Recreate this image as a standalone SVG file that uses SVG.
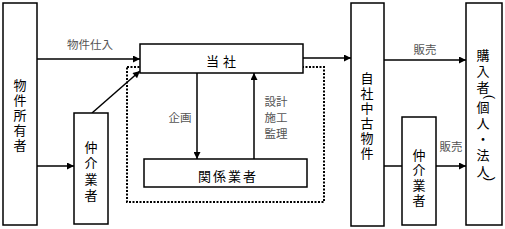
<svg xmlns="http://www.w3.org/2000/svg" width="505" height="229" viewBox="0 0 505 229">
<style>
.box{fill:#fff;stroke:#000;stroke-width:1.5}
.t{font-family:"Noto Sans CJK JP","Noto Sans",sans-serif;font-size:13px;fill:#000;text-anchor:middle}
.v{font-family:"Liberation Sans","Noto Sans CJK JP",sans-serif;font-size:13px;fill:#000;text-anchor:middle}
.l{font-family:"Noto Sans CJK JP","Noto Sans",sans-serif;font-size:11.5px;fill:#555;text-anchor:middle}
.c{stroke:#000;stroke-width:1.5;fill:none}
</style>
<defs>
<marker id="ah" viewBox="0 0 10 10" refX="10" refY="5" markerWidth="8" markerHeight="7" markerUnits="userSpaceOnUse" orient="auto">
<path d="M0,0 L10,5 L0,10 z" fill="#000"/>
</marker>
</defs>
<rect x="127" y="67" width="197" height="135" fill="none" stroke="#000" stroke-width="2" stroke-dasharray="2,1.5"/>
<g id="connectors">
<line class="c" x1="37" y1="59" x2="140" y2="59" marker-end="url(#ah)"/>
<line class="c" x1="37" y1="166" x2="74" y2="166" marker-end="url(#ah)"/>
<line class="c" x1="92" y1="113" x2="140" y2="71" marker-end="url(#ah)"/>
<line class="c" x1="197" y1="73" x2="197" y2="159" marker-end="url(#ah)"/>
<line class="c" x1="254" y1="159" x2="254" y2="73" marker-end="url(#ah)"/>
<line class="c" x1="303" y1="58" x2="351" y2="58" marker-end="url(#ah)"/>
<line class="c" x1="384" y1="60" x2="466" y2="60" marker-end="url(#ah)"/>
<line class="c" x1="384" y1="166" x2="402" y2="166"/>
<line class="c" x1="436" y1="166" x2="466" y2="166" marker-end="url(#ah)"/>
<text class="l" x="90" y="49">物件仕入</text>
<text class="l" x="180" y="122">企画</text>
<text class="l" x="276" y="106">設計</text>
<text class="l" x="276" y="122">施工</text>
<text class="l" x="276" y="138">監理</text>
<text class="l" x="425" y="54">販売</text>
<text class="l" x="451" y="151">販売</text>
</g>
<g id="owner">
<rect class="box" x="3" y="3" width="34" height="222"/>
<text class="v"><tspan x="20" y="90">物</tspan><tspan x="20" y="105">件</tspan><tspan x="20" y="120">所</tspan><tspan x="20" y="135">有</tspan><tspan x="20" y="150">者</tspan></text>
</g>
<g id="broker1">
<rect class="box" x="74" y="113" width="34" height="111"/>
<text class="v"><tspan x="91" y="152">仲</tspan><tspan x="91" y="168">介</tspan><tspan x="91" y="184">業</tspan><tspan x="91" y="200">者</tspan></text>
</g>
<g id="company">
<rect class="box" x="140" y="44" width="163" height="29"/>
<text class="t" x="223" y="66" letter-spacing="4">当社</text>
</g>
<g id="partners">
<rect class="box" x="144" y="159" width="163" height="28"/>
<text class="t" x="228" y="181" letter-spacing="2">関係業者</text>
</g>
<g id="property">
<rect class="box" x="351" y="3" width="33" height="223"/>
<text class="v"><tspan x="367" y="83">自</tspan><tspan x="367" y="98">社</tspan><tspan x="367" y="113">中</tspan><tspan x="367" y="128">古</tspan><tspan x="367" y="143">物</tspan><tspan x="367" y="158">件</tspan></text>
</g>
<g id="broker2">
<rect class="box" x="402" y="117" width="34" height="108"/>
<text class="v"><tspan x="419" y="160">仲</tspan><tspan x="419" y="175">介</tspan><tspan x="419" y="190">業</tspan><tspan x="419" y="205">者</tspan></text>
</g>
<g id="buyer">
<rect class="box" x="466" y="3" width="36" height="222"/>
<text class="v"><tspan x="483" y="60">購</tspan><tspan x="483" y="76">入</tspan><tspan x="483" y="92">者</tspan><tspan x="483" y="112">個</tspan><tspan x="483" y="128">人</tspan><tspan x="483" y="144">・</tspan><tspan x="483" y="160">法</tspan><tspan x="483" y="176">人</tspan></text>
<text class="v" font-size="12" transform="translate(486,97) rotate(90)">(</text>
<text class="v" font-size="12" transform="translate(486,179) rotate(90)">)</text>
</g>
</svg>
